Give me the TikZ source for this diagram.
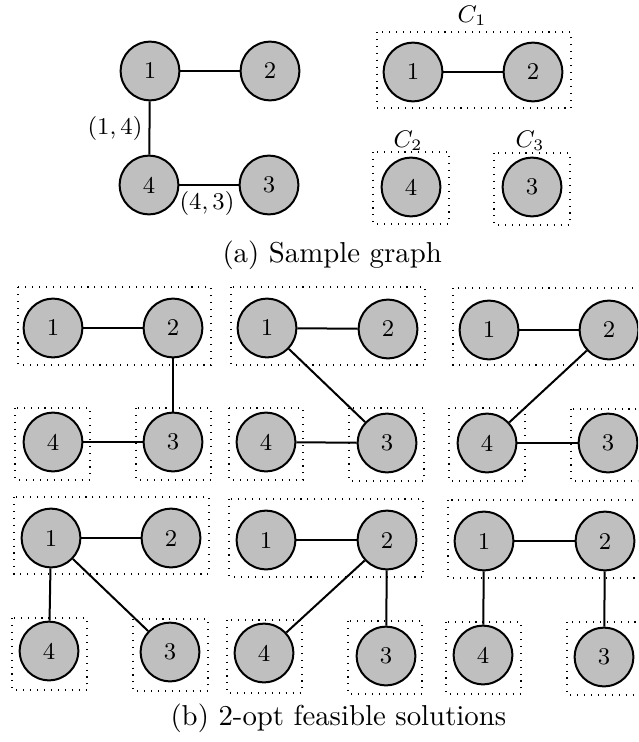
\documentclass[tikz,border=0pt]{standalone}
\begin{document}
\begin{tikzpicture}[x=0.375pt,y=-0.375pt,
  vtx/.style={circle,draw,line width=0.75pt,fill=lightgray,minimum size=22pt,inner sep=0pt,font=\small},
  lnk/.style={line width=0.75pt},
  grp/.style={dash pattern=on 0.4pt off 2.2pt,line width=0.4pt},
  lbl/.style={font=\small,inner sep=0pt},
  captxt/.style={anchor=base west,inner sep=0pt,font=\fontsize{10.8}{13}\selectfont}]
\clip (0,0) rectangle (638,742);

% ---------- (a) sample graph ----------
\node[vtx] (a1) at (150,71) {1};
\node[vtx] (a2) at (270,71) {2};
\node[vtx] (a4) at (149,185) {4};
\node[vtx] (a3) at (269,185) {3};
\draw[lnk] (a1) -- (a2);
\draw[lnk] (a1) -- (a4);
\draw[lnk] (a4) -- (a3);
\node[lbl] (l14) at (115,128) {$(1,4)$};
\node[lbl] (l43) at (207,203) {$(4,3)$};

% components
\draw[grp] (377,32) rectangle (571,108);
\draw[grp] (373,152) rectangle (449,224);
\draw[grp] (494,153) rectangle (570,225);
\node[lbl] (c1) at (472,16) {$C_1$};
\node[lbl] (c2) at (408,141) {$C_2$};
\node[lbl] (c3) at (530,141) {$C_3$};
\node[vtx] (b1) at (413,72) {1};
\node[vtx] (b2) at (533,72) {2};
\node[vtx] (b4) at (411,187) {4};
\node[vtx] (b3) at (532,187) {3};
\draw[lnk] (b1) -- (b2);

\node[captxt] (capa) at (222,262) {(a) Sample graph};

% ---------- (b) 2-opt feasible solutions ----------
% solution 1
\draw[grp] (18,287) rectangle (211,365);
\draw[grp] (15,408) rectangle (90,480);
\draw[grp] (136,408) rectangle (211,480);
\node[vtx] (p1) at (53,328) {1};
\node[vtx] (p2) at (173,328) {2};
\node[vtx] (p4) at (53,442) {4};
\node[vtx] (p3) at (173,442) {3};
\draw[lnk] (p1) -- (p2);
\draw[lnk] (p2) -- (p3);
\draw[lnk] (p4) -- (p3);

% solution 2
\draw[grp] (231,287) rectangle (425,365);
\draw[grp] (229,408) rectangle (303,480);
\draw[grp] (349,408) rectangle (424,481);
\node[vtx] (q1) at (267,328) {1};
\node[vtx] (q2) at (388,329) {2};
\node[vtx] (q4) at (266,442) {4};
\node[vtx] (q3) at (387,443) {3};
\draw[lnk] (q1) -- (q2);
\draw[lnk] (q1) -- (q3);
\draw[lnk] (q4) -- (q3);

% solution 3
\draw[grp] (453,288) rectangle (660,365);
\draw[grp] (449,408) rectangle (525,481);
\draw[grp] (571,409) rectangle (660,481);
\node[vtx] (r1) at (489,330) {1};
\node[vtx] (r2) at (609,330) {2};
\node[vtx] (r4) at (487,443) {4};
\node[vtx] (r3) at (608,443) {3};
\draw[lnk] (r1) -- (r2);
\draw[lnk] (r2) -- (r4);
\draw[lnk] (r4) -- (r3);

% solution 4
\draw[grp] (14,497) rectangle (209,574);
\draw[grp] (12,618) rectangle (87,690);
\draw[grp] (133,619) rectangle (208,691);
\node[vtx] (s1) at (51,538) {1};
\node[vtx] (s2) at (171,538) {2};
\node[vtx] (s4) at (49,651) {4};
\node[vtx] (s3) at (170,652) {3};
\draw[lnk] (s1) -- (s2);
\draw[lnk] (s1) -- (s4);
\draw[lnk] (s1) -- (s3);

% solution 5
\draw[grp] (229,499) rectangle (423,577);
\draw[grp] (227,620) rectangle (302,693);
\draw[grp] (348,621) rectangle (422,694);
\node[vtx] (t1) at (266,540) {1};
\node[vtx] (t2) at (387,540) {2};
\node[vtx] (t4) at (264,653) {4};
\node[vtx] (t3) at (386,656) {3};
\draw[lnk] (t1) -- (t2);
\draw[lnk] (t2) -- (t4);
\draw[lnk] (t2) -- (t3);

% solution 6
\draw[grp] (448,500) rectangle (660,578);
\draw[grp] (446,622) rectangle (521,694);
\draw[grp] (567,622) rectangle (660,695);
\node[vtx] (u1) at (484,541) {1};
\node[vtx] (u2) at (605,541) {2};
\node[vtx] (u4) at (483,655) {4};
\node[vtx] (u3) at (604,657) {3};
\draw[lnk] (u1) -- (u2);
\draw[lnk] (u1) -- (u4);
\draw[lnk] (u2) -- (u3);

\node[captxt] (capb) at (170,725) {(b) 2-opt feasible solutions};
\end{tikzpicture}
\end{document}
